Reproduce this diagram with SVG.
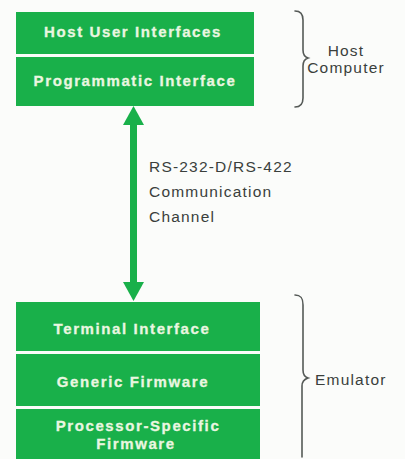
<svg xmlns="http://www.w3.org/2000/svg" width="405" height="459" viewBox="0 0 405 459">
<style>
.box{fill:#19b04a}
.bt{font-family:"Liberation Sans",Arial,sans-serif;font-weight:bold;font-size:15px;letter-spacing:1.6px;fill:#eaf6e0;stroke:#eaf6e0;stroke-width:0.3;text-anchor:middle}
.lb{font-family:"Liberation Sans",Arial,sans-serif;font-size:15.5px;letter-spacing:1.2px;fill:#3a3f3c}
.brace{fill:none;stroke:#555a57;stroke-width:1.6;stroke-linecap:round}
.conn{stroke:#19b04a;stroke-width:7;fill:none}
.ah{fill:#19b04a}
</style>
<rect width="405" height="459" fill="#fbfcfa"/>
<g id="host-user-interfaces"><rect class="box" x="16" y="12" width="238" height="42"/><text class="bt" x="133" y="37">Host User Interfaces</text></g>
<g id="programmatic-interface"><rect class="box" x="16" y="57" width="238" height="49"/><text class="bt" x="135" y="86">Programmatic Interface</text></g>
<g id="terminal-interface"><rect class="box" x="16" y="302" width="244" height="49"/><text class="bt" x="132" y="334">Terminal Interface</text></g>
<g id="generic-firmware"><rect class="box" x="16" y="354" width="244" height="52"/><text class="bt" x="133" y="387">Generic Firmware</text></g>
<g id="processor-specific-firmware"><rect class="box" x="16" y="409" width="244" height="50"/><text class="bt" x="138" y="431">Processor-Specific</text><text class="bt" x="136" y="449">Firmware</text></g>
<g id="connectors">
<line class="conn" x1="133.5" y1="122" x2="133.5" y2="285"/>
<polygon class="ah" points="133.5,106 144,125 123,125"/>
<polygon class="ah" points="133.5,301 144,282 123,282"/>
</g>
<g id="host-computer-label">
<path class="brace" d="M295,11 C301,11 303,14 303,20 L303,50 C303,55 305,57 308,58 C305,59 303,61 303,66 L303,98 C303,104 301,107 295,107"/>
<text class="lb" x="346" y="56" text-anchor="middle" letter-spacing="0.9">Host</text>
<text class="lb" x="346" y="73" text-anchor="middle" letter-spacing="0.9">Computer</text>
</g>
<g id="emulator-label">
<path class="brace" d="M295,295 C301,295 303,298 303,305 L303,370 C303,375 305,377 308,378 C305,379 302,381 302,386 L302,457"/>
<text class="lb" x="315" y="385" letter-spacing="1.8">Emulator</text>
</g>
<g id="channel-label">
<text class="lb" x="149" y="172">RS-232-D/RS-422</text>
<text class="lb" x="149" y="197">Communication</text>
<text class="lb" x="149" y="222">Channel</text>
</g>
</svg>
